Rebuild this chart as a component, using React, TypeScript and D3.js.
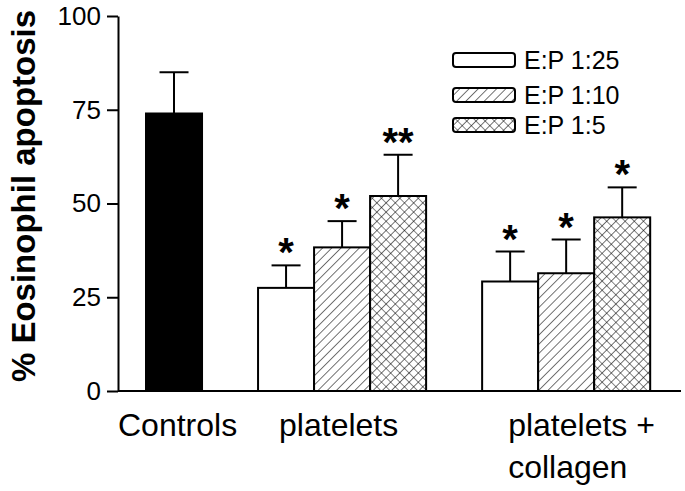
import React, { useEffect, useRef } from 'react';
import * as d3 from 'd3';

// values (% eosinophil apoptosis, mean and SEM)
const groups = ['Controls', 'platelets', 'platelets +|collagen'];
const series = ['E:P 1:25', 'E:P 1:10', 'E:P 1:5'];
const controlMean = [74];
const controlSem = [11];
const plateletMean = [27.5, 38.3, 52];
const plateletSem = [6, 7, 11];
const collagenMean = [29.2, 31.4, 46.3];
const collagenSem = [8, 9, 8];
const plateletStars = ['*', '*', '**'];
const collagenStars = ['*', '*', '*'];
const yTicks = [0, 25, 50, 75, 100];

const FONT = "'Liberation Sans', Arial, Helvetica, sans-serif";

const App = () => {
  const svgRef = useRef(null);

  useEffect(() => {
    const svg = d3.select(svgRef.current);
    svg.selectAll('*').remove();

    // one slot per bar, one empty slot between groups
    const x = d3.scaleLinear().domain([-0.5, 9.55]).range([118, 681]);
    const y = d3.scaleLinear().domain([0, 100]).range([391, 16]);
    const slot = x(1) - x(0);

    const fills = ['#fff', 'url(#diag)', 'url(#cross)'];

    const defs = svg.append('defs');
    const diag = defs
      .append('pattern')
      .attr('id', 'diag')
      .attr('patternUnits', 'userSpaceOnUse')
      .attr('width', 6.5)
      .attr('height', 6.5)
      .attr('patternTransform', 'rotate(45)');
    diag.append('rect').attr('width', 6.5).attr('height', 6.5).attr('fill', '#fff');
    diag
      .append('line')
      .attr('x1', 0).attr('y1', 0).attr('x2', 0).attr('y2', 6.5)
      .attr('stroke', '#000')
      .attr('stroke-width', 1.1);

    const cross = defs
      .append('pattern')
      .attr('id', 'cross')
      .attr('patternUnits', 'userSpaceOnUse')
      .attr('width', 6.5)
      .attr('height', 6.5)
      .attr('patternTransform', 'rotate(45)');
    cross.append('rect').attr('width', 6.5).attr('height', 6.5).attr('fill', '#fff');
    cross
      .append('path')
      .attr('d', 'M0,0V6.5M0,0H6.5')
      .attr('stroke', '#000')
      .attr('stroke-width', 1.1);

    // build bar list from the arrays
    const bars = [];
    bars.push({ slot: 0, mean: controlMean[0], sem: controlSem[0], fill: '#000', star: '' });
    plateletMean.forEach((m, i) =>
      bars.push({ slot: 2 + i, mean: m, sem: plateletSem[i], fill: fills[i], star: plateletStars[i] })
    );
    collagenMean.forEach((m, i) =>
      bars.push({ slot: 6 + i, mean: m, sem: collagenSem[i], fill: fills[i], star: collagenStars[i] })
    );

    const g = svg.append('g');

    // error bars (drawn first so the bar outline covers the foot)
    g.selectAll('line.err')
      .data(bars)
      .join('line')
      .attr('class', 'err')
      .attr('x1', (d) => x(d.slot) + slot / 2)
      .attr('x2', (d) => x(d.slot) + slot / 2)
      .attr('y1', (d) => y(d.mean))
      .attr('y2', (d) => y(d.mean + d.sem))
      .attr('stroke', '#000')
      .attr('stroke-width', 2);

    g.selectAll('line.cap')
      .data(bars)
      .join('line')
      .attr('class', 'cap')
      .attr('x1', (d) => x(d.slot) + slot / 2 - 14.5)
      .attr('x2', (d) => x(d.slot) + slot / 2 + 14.5)
      .attr('y1', (d) => y(d.mean + d.sem))
      .attr('y2', (d) => y(d.mean + d.sem))
      .attr('stroke', '#000')
      .attr('stroke-width', 2);

    g.selectAll('rect.bar')
      .data(bars)
      .join('rect')
      .attr('class', 'bar')
      .attr('x', (d) => x(d.slot))
      .attr('y', (d) => y(d.mean))
      .attr('width', slot)
      .attr('height', (d) => y(0) - y(d.mean))
      .attr('fill', (d) => d.fill)
      .attr('stroke', '#000')
      .attr('stroke-width', 2);

    g.selectAll('text.star')
      .data(bars.filter((d) => d.star))
      .join('text')
      .attr('class', 'star')
      .attr('x', (d) => x(d.slot) + slot / 2)
      .attr('y', (d) => y(d.mean + d.sem) + 1)
      .attr('text-anchor', 'middle')
      .style('font-family', FONT)
      .style('font-weight', 'bold')
      .style('font-size', '40px')
      .text((d) => d.star);

    // axes
    const yAxis = svg
      .append('g')
      .attr('transform', `translate(${x(-0.5)},0)`)
      .call(d3.axisLeft(y).tickValues(yTicks).tickSize(11).tickSizeOuter(0).tickPadding(6));
    yAxis.select('.domain').attr('stroke-width', 2);
    yAxis.selectAll('.tick line').attr('stroke-width', 2);
    yAxis
      .selectAll('.tick text')
      .style('font-family', FONT)
      .style('font-size', '26px')
      .attr('fill', '#000');

    svg
      .append('line')
      .attr('x1', x(-0.5))
      .attr('x2', x(9.55))
      .attr('y1', y(0))
      .attr('y2', y(0))
      .attr('stroke', '#000')
      .attr('stroke-width', 2);

    // category labels
    const groupSlot = [0, 2, 6];
    const labelNudge = [-28, 21, 26];
    const labels = svg
      .selectAll('text.cat')
      .data(groups)
      .join('text')
      .attr('class', 'cat')
      .attr('x', (d, i) => x(groupSlot[i]) + labelNudge[i])
      .attr('y', 436)
      .style('font-family', FONT)
      .style('font-size', '32px');
    labels
      .selectAll('tspan')
      .data((d, i) => d.split('|').map((t) => ({ t, x: x(groupSlot[i]) + labelNudge[i] })))
      .join('tspan')
      .attr('x', (d) => d.x)
      .attr('dy', (d, j) => (j === 0 ? 0 : 42))
      .text((d) => d.t);

    // y title
    svg
      .append('text')
      .attr('transform', 'translate(35,196) rotate(-90)')
      .attr('text-anchor', 'middle')
      .style('font-family', FONT)
      .style('font-weight', 'bold')
      .style('font-size', '33px')
      .text('% Eosinophil apoptosis');

    // legend
    const rowY = [60, 95, 125];
    const legend = svg
      .selectAll('g.leg')
      .data(series)
      .join('g')
      .attr('class', 'leg')
      .attr('transform', (d, i) => `translate(453,${rowY[i]})`);
    legend
      .append('rect')
      .attr('x', 0)
      .attr('y', -7)
      .attr('width', 62)
      .attr('height', 14)
      .attr('rx', 3)
      .attr('fill', (d, i) => fills[i])
      .attr('stroke', '#000')
      .attr('stroke-width', 2);
    legend
      .append('text')
      .attr('x', 71)
      .attr('y', 8.5)
      .style('font-family', FONT)
      .style('font-size', '25px')
      .text((d) => d);
  }, []);

  return (
    <svg
      ref={svgRef}
      width={685}
      height={491}
      style={{ position: 'absolute', left: 0, top: 0, background: '#fff' }}
    />
  );
};

export default App;
